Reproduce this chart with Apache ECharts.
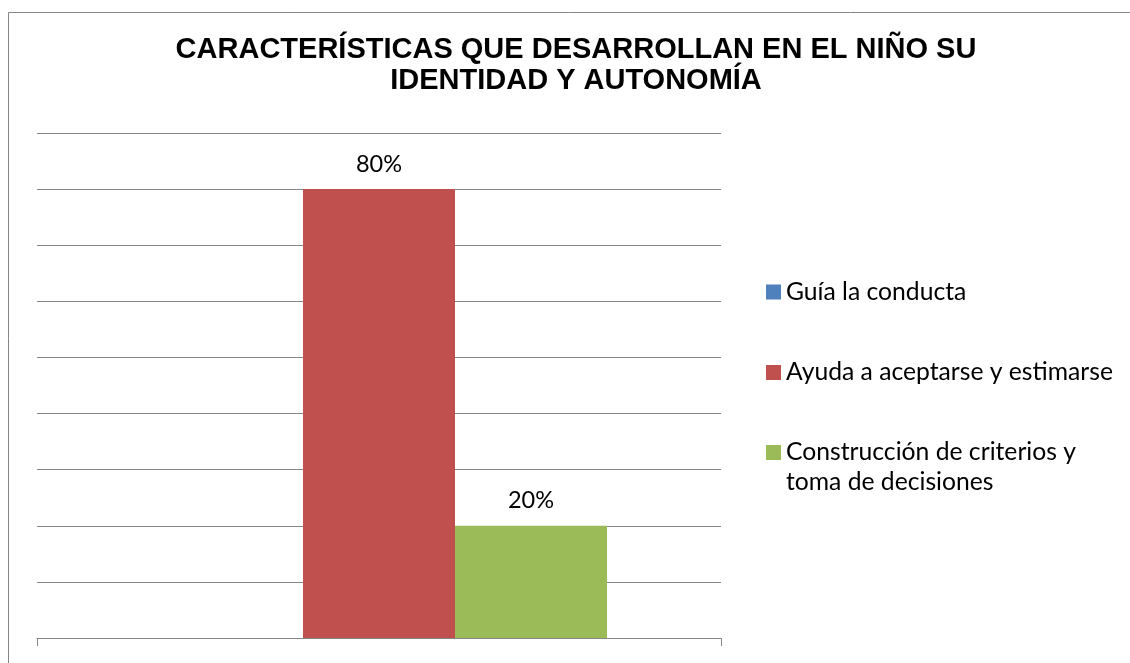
<!DOCTYPE html>
<html>
<head>
<meta charset="utf-8">
<script src="https://cdn.jsdelivr.net/npm/echarts@6/dist/echarts.min.js"></script>
<style>html,body{margin:0;padding:0;background:#fff;}#c{width:1130px;height:663px;}</style>
</head>
<body>
<div id="c"></div>
<script>
const titleText = 'CARACTERÍSTICAS QUE DESARROLLAN EN EL NIÑO SU\nIDENTIDAD Y AUTONOMÍA';
const categories = [''];
const seriesNames = ['Guía la conducta', 'Ayuda a aceptarse y estimarse', 'Construcción de criterios y toma de decisiones'];
const legendLabels = ['Guía la conducta', 'Ayuda a aceptarse y estimarse', '\nConstrucción de criterios y\ntoma de decisiones'];
const seriesColors = ['#4F81BD', '#C0504D', '#9BBB59'];
const guiaValues = [0];
const ayudaValues = [0.8];
const construccionValues = [0.2];
const seriesValues = [guiaValues, ayudaValues, construccionValues];

const chart = echarts.init(document.getElementById('c'));
const LH = 30;
const legendFont = {fontFamily: 'Lato', fontSize: 24.7, color: '#000', lineHeight: LH};
const legendCenters = [292, 372.5, 452.5];
const legends = seriesNames.map((n, i) => {
  const lines = legendLabels[i].split('\n').length;
  return {
    orient: 'vertical', left: 766, top: legendCenters[i] - lines * LH / 2, padding: 0,
    itemWidth: 15, itemHeight: 15, itemGap: 0,
    icon: 'rect',
    data: [n],
    formatter: name => legendLabels[seriesNames.indexOf(name)],
    textStyle: legendFont
  };
});

chart.setOption({
  animation: false,
  title: {
    text: titleText, left: 576, top: 34, padding: 0, textAlign: 'center',
    textStyle: {fontFamily: 'Liberation Sans', fontWeight: 'bold', fontSize: 29, lineHeight: 31, color: '#000'}
  },
  legend: legends,
  grid: {left: 37, top: 133, width: 684, height: 505},
  xAxis: {
    type: 'category', data: categories,
    axisLine: {lineStyle: {color: '#868686', width: 1}},
    axisTick: {show: true, length: 8, lineStyle: {color: '#868686'}},
    axisLabel: {show: false}
  },
  yAxis: {
    type: 'value', min: 0, max: 0.9, interval: 0.1,
    axisLine: {show: false}, axisTick: {show: false}, axisLabel: {show: false},
    splitLine: {lineStyle: {color: '#868686', width: 1}}
  },
  graphic: [{
    type: 'rect', shape: {x: 8.5, y: 12.5, width: 1200, height: 700},
    style: {fill: 'none', stroke: '#868686', lineWidth: 1}, silent: true, z: -1
  }],
  series: seriesNames.map((n, i) => ({
    name: n, type: 'bar', data: seriesValues[i],
    barGap: '0%', barCategoryGap: '33.333%',
    itemStyle: {color: seriesColors[i]},
    label: {
      show: seriesValues[i][0] > 0, position: 'top', distance: 13,
      formatter: p => Math.round(p.value * 100) + '%',
      fontFamily: 'Lato', fontSize: 23.5, color: '#000'
    }
  }))
});
</script>
</body>
</html>
